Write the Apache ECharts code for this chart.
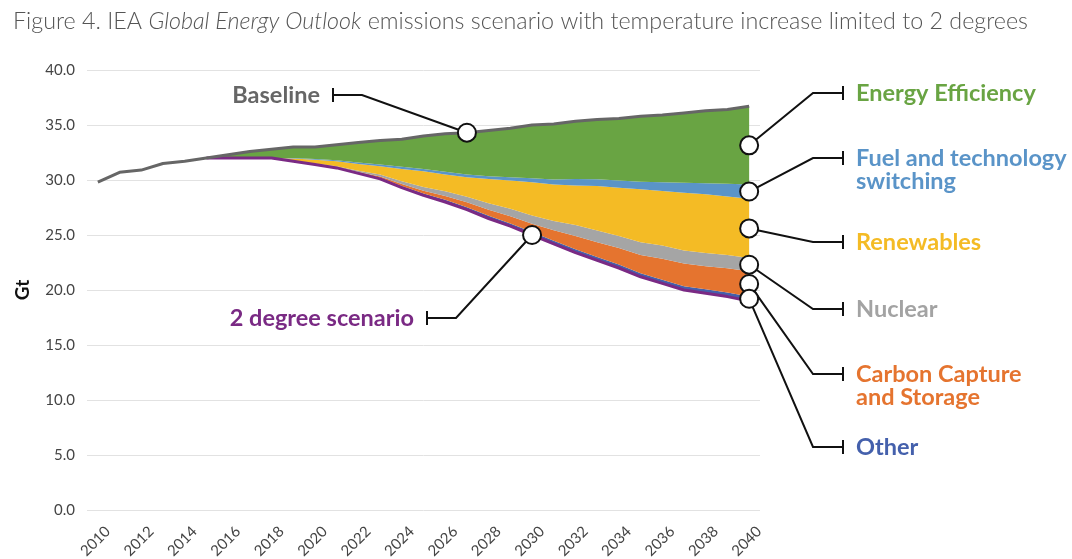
<!DOCTYPE html>
<html>
<head>
<meta charset="utf-8">
<title>IEA emissions scenario</title>
<script src="https://cdn.jsdelivr.net/npm/echarts@6/dist/echarts.min.js"></script>
<style>
  html, body { margin: 0; padding: 0; background: #ffffff; }
  #chart { width: 1072px; height: 559px; }
</style>
</head>
<body>
<div id="chart"></div>
<script>
// Years on the horizontal axis
const years = ['2010','2011','2012','2013','2014','2015','2016','2017','2018','2019',
  '2020','2021','2022','2023','2024','2025','2026','2027','2028','2029',
  '2030','2031','2032','2033','2034','2035','2036','2037','2038','2039','2040'];

// Baseline emissions, Gt CO2
const baseline = [29.8,30.7,30.9,31.5,31.7,32.0,32.3,32.6,32.8,33.0,
  33.0,33.2,33.4,33.6,33.7,34.0,34.2,34.3,34.5,34.7,
  35.0,35.1,35.35,35.5,35.6,35.8,35.9,36.1,36.3,36.4,36.7];

// 2 degree scenario emissions, Gt CO2
const scenario = [null,null,null,null,null,32.0,32.0,32.0,32.0,31.7,
  31.4,31.1,30.6,30.1,29.3,28.6,28.0,27.3,26.5,25.8,
  25.0,24.2,23.4,22.7,22.0,21.2,20.6,20.0,19.7,19.4,19.0];

// Reductions by measure, Gt CO2 (stacked on top of the 2 degree scenario)
const other = [null,null,null,null,null,0,0,0,0,0,
  0.02,0.04,0.06,0.1,0.15,0.18,0.2,0.22,0.24,0.25,
  0.27,0.28,0.3,0.3,0.32,0.33,0.34,0.35,0.36,0.38,0.4];
const ccs = [null,null,null,null,null,0,0,0,0,0,
  0.02,0.04,0.07,0.12,0.18,0.25,0.35,0.45,0.55,0.65,
  0.75,0.95,1.2,1.35,1.5,1.65,1.9,2.05,2.1,2.2,2.3];
const nuclear = [null,null,null,null,null,0,0,0,0,0.02,
  0.05,0.08,0.12,0.18,0.25,0.33,0.42,0.5,0.6,0.68,
  0.75,0.85,1.0,1.05,1.1,1.15,1.2,1.2,1.2,1.2,1.2];
const renewables = [null,null,null,null,null,0,0,0,0,0.23,
  0.36,0.44,0.6,0.75,1.12,1.44,1.53,1.78,2.21,2.57,
  3.03,3.32,3.6,4.05,4.38,4.82,4.96,5.25,5.34,5.32,5.4];
const fuelSwitching = [null,null,null,null,null,0,0,0,0,0.05,
  0.05,0.1,0.15,0.15,0.2,0.2,0.25,0.25,0.25,0.3,
  0.35,0.45,0.6,0.62,0.66,0.7,0.8,0.9,1.0,1.15,1.3];
const efficiency = [null,null,null,null,null,0,0.3,0.6,0.8,1.0,
  1.1,1.4,1.8,2.2,2.5,3.0,3.45,3.8,4.15,4.45,
  4.85,5.05,5.25,5.43,5.64,5.95,6.1,6.35,6.6,6.75,7.1];

// Y axis ticks
const yTicks = { min: 0, max: 40, step: 5 };

const COLORS = {
  efficiency: '#69a443',
  fuel: '#5a94c8',
  renewables: '#f4bb25',
  nuclear: '#a5a5a5',
  ccs: '#e5742f',
  other: '#4460ac',
  scenario: '#7a2a84',
  baseline: '#666666'
};

const LABEL_FONT = 'Lato, "Source Sans Pro", "Open Sans", sans-serif';

const chart = echarts.init(document.getElementById('chart'), null, { renderer: 'canvas' });

function wedge(name, data, color) {
  return {
    name: name, type: 'line', stack: 'reduction', data: data,
    symbol: 'none', showSymbol: false, smooth: false,
    lineStyle: { width: 0, opacity: 0 },
    areaStyle: { color: color, opacity: 1 },
    emphasis: { disabled: true }, silent: true, z: 2
  };
}

// Middle of a reduction band at a year index, counting up from the scenario
const last = years.length - 1;
const stackOrder = [other, ccs, nuclear, renewables, fuelSwitching, efficiency];
function bandMid(arr, i) {
  let base = scenario[i];
  for (const s of stackOrder) {
    if (s === arr) return base + s[i] / 2;
    base += s[i];
  }
  return base;
}

const anchors = {
  baseline:   [years[17], baseline[17]],
  scenario:   [years[20], scenario[20]],
  efficiency: [years[last], bandMid(efficiency, last)],
  fuel:       [years[last], bandMid(fuelSwitching, last)],
  renewables: [years[last], bandMid(renewables, last)],
  nuclear:    [years[last], bandMid(nuclear, last)],
  ccs:        [years[last], bandMid(ccs, last)],
  other:      [years[last], bandMid(other, last)]
};

const option = {
  animation: false,
  backgroundColor: '#ffffff',
  title: {
    left: 8, top: 5,
    text: '{n|Figure 4. IEA }{i|Global Energy Outlook}{n| emissions scenario with temperature increase limited to 2 degrees}',
    textStyle: {
      rich: {
        n: { fontFamily: LABEL_FONT, fontSize: 23.3, fontWeight: 300, color: '#555555' },
        i: { fontFamily: LABEL_FONT, fontSize: 23.3, fontWeight: 300, fontStyle: 'italic', color: '#555555' }
      }
    }
  },
  grid: {
    left: 87, right: 312, top: 70, bottom: 49,
    containLabel: false, outerBoundsMode: 'none'
  },
  xAxis: {
    type: 'category', data: years, boundaryGap: true,
    axisLine: { show: false }, axisTick: { show: false },
    axisLabel: {
      interval: 1, rotate: 45, fontSize: 15, color: '#444444', fontFamily: LABEL_FONT,
      margin: 9, verticalAlign: 'top', lineHeight: 28,
      showMinLabel: true, showMaxLabel: true
    },
    splitLine: { show: false }
  },
  yAxis: {
    type: 'value', min: yTicks.min, max: yTicks.max, interval: yTicks.step,
    name: 'Gt', nameLocation: 'middle', nameGap: 55,
    nameTextStyle: { fontSize: 19, fontWeight: 'bold', color: '#111111', fontFamily: LABEL_FONT },
    axisLine: { show: false }, axisTick: { show: false },
    axisLabel: { formatter: v => v.toFixed(1), fontSize: 15, color: '#444444', fontFamily: LABEL_FONT, margin: 12 },
    splitLine: { lineStyle: { color: '#e2e2e2', width: 1 } }
  },
  series: [
    {
      name: 'base', type: 'line', stack: 'reduction', data: scenario,
      symbol: 'none', lineStyle: { width: 0, opacity: 0 }, silent: true, z: 2
    },
    wedge('Other', other, COLORS.other),
    wedge('Carbon Capture and Storage', ccs, COLORS.ccs),
    wedge('Nuclear', nuclear, COLORS.nuclear),
    wedge('Renewables', renewables, COLORS.renewables),
    wedge('Fuel and technology switching', fuelSwitching, COLORS.fuel),
    wedge('Energy Efficiency', efficiency, COLORS.efficiency),
    {
      name: '2 degree scenario', type: 'line', data: scenario, symbol: 'none',
      lineStyle: { color: COLORS.scenario, width: 3 }, z: 4, silent: true
    },
    {
      name: 'Baseline', type: 'line', data: baseline, symbol: 'none',
      lineStyle: { color: COLORS.baseline, width: 3 }, z: 4, silent: true
    },
    {
      name: 'callouts', type: 'scatter', symbol: 'circle', symbolSize: 18,
      itemStyle: { color: '#ffffff', borderColor: '#111111', borderWidth: 2, opacity: 1 },
      data: Object.values(anchors), z: 10, silent: true
    }
  ]
};

chart.setOption(option);

// Leader lines and labels
const callouts = [
  { key: 'efficiency', text: 'Energy Efficiency', color: COLORS.efficiency, side: 'right', y: 93 },
  { key: 'fuel', text: 'Fuel and technology\nswitching', color: COLORS.fuel, side: 'right', y: 158 },
  { key: 'renewables', text: 'Renewables', color: COLORS.renewables, side: 'right', y: 242 },
  { key: 'nuclear', text: 'Nuclear', color: '#a3a3a3', side: 'right', y: 309 },
  { key: 'ccs', text: 'Carbon Capture\nand Storage', color: COLORS.ccs, side: 'right', y: 374 },
  { key: 'other', text: 'Other', color: COLORS.other, side: 'right', y: 447 },
  { key: 'baseline', text: 'Baseline', color: COLORS.baseline, side: 'left', y: 95, tickX: 333, elbowX: 362 },
  { key: 'scenario', text: '2 degree scenario', color: COLORS.scenario, side: 'left', y: 318, tickX: 427, elbowX: 456 }
];

const LINE_H = 23;
const graphics = [];
callouts.forEach(c => {
  const p = chart.convertToPixel({ gridIndex: 0 }, anchors[c.key]);
  let elbowX, tickX;
  if (c.side === 'right') { elbowX = 813; tickX = 843; }
  else { elbowX = c.elbowX; tickX = c.tickX; }
  graphics.push({
    type: 'polyline', z: 5, silent: true,
    shape: { points: [[p[0], p[1]], [elbowX, c.y], [tickX, c.y]] },
    style: { stroke: '#111111', lineWidth: 2, fill: null }
  });
  graphics.push({
    type: 'line', z: 5, silent: true,
    shape: { x1: tickX, y1: c.y - 7, x2: tickX, y2: c.y + 7 },
    style: { stroke: '#111111', lineWidth: 2 }
  });
  graphics.push({
    type: 'text', z: 6, silent: true,
    x: c.side === 'right' ? tickX + 13 : tickX - 13,
    y: c.y - LINE_H / 2,
    style: {
      text: c.text, fill: c.color,
      fontFamily: LABEL_FONT, fontSize: 23.5, fontWeight: 'bold',
      lineHeight: LINE_H,
      align: c.side === 'right' ? 'left' : 'right',
      verticalAlign: 'top'
    }
  });
});

chart.setOption({ graphic: graphics });
</script>
</body>
</html>
